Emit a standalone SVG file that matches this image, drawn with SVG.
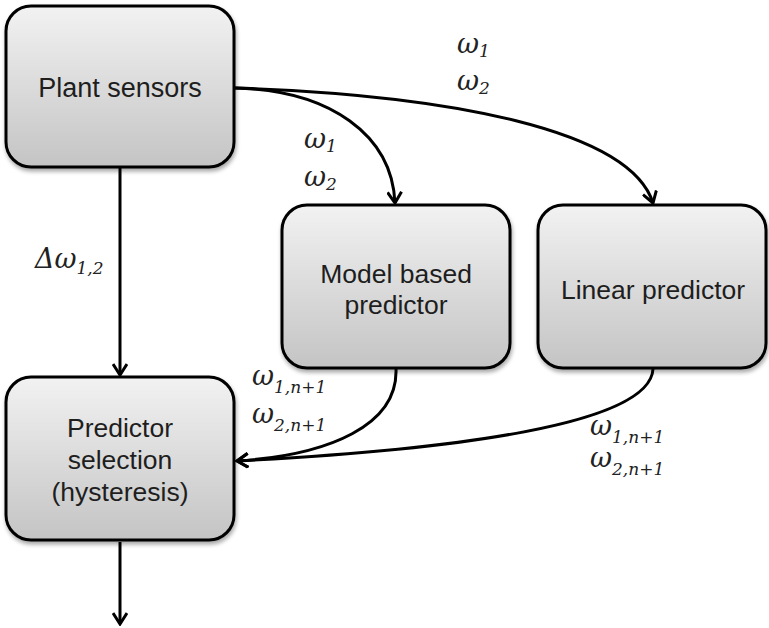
<svg xmlns="http://www.w3.org/2000/svg" width="769" height="628" viewBox="0 0 769 628">
<defs>
<linearGradient id="g" x1="0" y1="0" x2="0" y2="1">
<stop offset="0" stop-color="#f2f2f2"/>
<stop offset="1" stop-color="#c4c4c4"/>
</linearGradient>
<filter id="sh" x="-10%" y="-10%" width="130%" height="130%">
<feGaussianBlur in="SourceAlpha" stdDeviation="2"/>
<feOffset dx="1" dy="3" result="b"/>
<feComponentTransfer><feFuncA type="linear" slope="0.35"/></feComponentTransfer>
<feMerge><feMergeNode/><feMergeNode in="SourceGraphic"/></feMerge>
</filter>
<marker id="ar" markerWidth="16" markerHeight="16" refX="14" refY="8" orient="auto" markerUnits="userSpaceOnUse">
<path d="M3,1 L14,8 L3,15" fill="none" stroke="#000" stroke-width="3"/>
</marker>
<style>
.box{fill:url(#g);stroke:#000;stroke-width:3;filter:url(#sh)}
.t{font-family:"Liberation Sans",Arial,sans-serif;font-size:26.5px;fill:#1e1e1e;text-anchor:middle}
.c{fill:none;stroke:#000;stroke-width:3;marker-end:url(#ar)}
.w{font-family:"DejaVu Serif","Liberation Serif",serif;font-style:italic;font-size:27px;fill:#222}
.s{font-size:17px}
</style>
</defs>
<g id="connectors">
<path class="c" d="M120,168 L120,375"/>
<path class="c" d="M120,542 L120,624"/>
<path class="c" d="M235,88 C330,90 392,135 395,203"/>
<path class="c" d="M235,88 C450,95 630,130 653,203"/>
<path class="c" d="M396,369 C398,425 330,455 237,461"/>
<path class="c" d="M653,369 C650,425 450,450 237,461"/>
</g>
<g id="plant-sensors">
<rect class="box" x="6" y="6" width="228" height="161" rx="25"/>
<text class="t" x="120" y="97" style="font-size:27px">Plant sensors</text>
</g>
<g id="model-based-predictor">
<rect class="box" x="282" y="205" width="228" height="163" rx="25"/>
<text class="t" x="396" y="283">Model based</text>
<text class="t" x="396" y="314">predictor</text>
</g>
<g id="linear-predictor">
<rect class="box" x="538" y="205" width="228" height="163" rx="25"/>
<text class="t" x="653" y="299">Linear predictor</text>
</g>
<g id="predictor-selection">
<rect class="box" x="6" y="377" width="228" height="163" rx="25"/>
<text class="t" x="120" y="437">Predictor</text>
<text class="t" x="120" y="469">selection</text>
<text class="t" x="120" y="501">(hysteresis)</text>
</g>
<g id="labels">
<text class="w" x="457" y="53">ω<tspan class="s" dy="4">1</tspan></text>
<text class="w" x="457" y="90">ω<tspan class="s" dy="4">2</tspan></text>
<text class="w" x="304" y="148">ω<tspan class="s" dy="4">1</tspan></text>
<text class="w" x="304" y="186">ω<tspan class="s" dy="4">2</tspan></text>
<text class="w" x="35" y="268">Δω<tspan class="s" dy="6">1,2</tspan></text>
<text class="w" x="252" y="385">ω<tspan class="s" dy="8">1,n+1</tspan></text>
<text class="w" x="252" y="423">ω<tspan class="s" dy="8">2,n+1</tspan></text>
<text class="w" x="590" y="435">ω<tspan class="s" dy="8">1,n+1</tspan></text>
<text class="w" x="590" y="467">ω<tspan class="s" dy="8">2,n+1</tspan></text>
</g>
</svg>
